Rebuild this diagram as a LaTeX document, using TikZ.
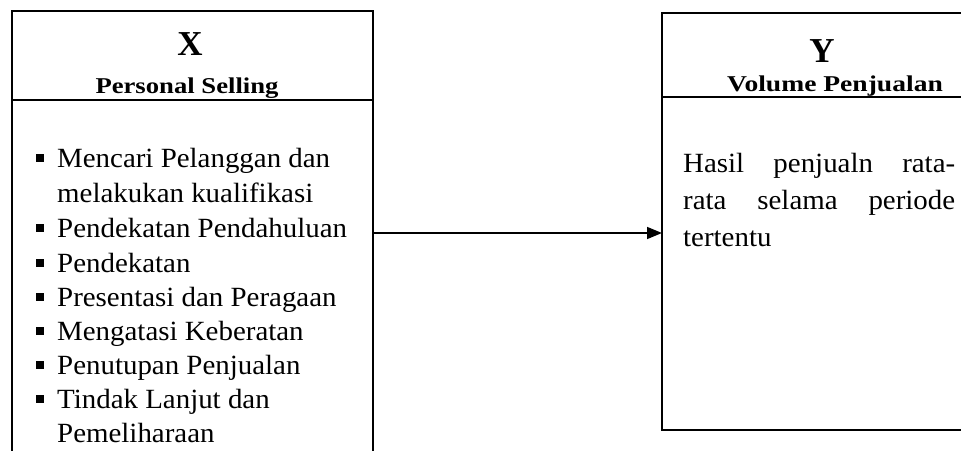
\documentclass[tikz,border=0pt]{standalone}
\usepackage{fontspec}
\setmainfont{Liberation Serif}
\newfontfamily\bodyf[FakeStretch=1.04]{Liberation Serif}
\newfontfamily\headf[FakeStretch=1.18]{Liberation Serif}
\newfontfamily\headg[FakeStretch=1.22]{Liberation Serif}
\usetikzlibrary{arrows.meta}
\tikzset{
  frame/.style={line width=1.6pt, black},
  bigletter/.style={font=\fontsize{35}{35}\selectfont\bfseries, anchor=base, inner sep=0pt},
  headtext/.style={font=\headf\fontsize{22.6}{22.6}\selectfont\bfseries, anchor=base, inner sep=0pt},
  headtextb/.style={font=\headg\fontsize{22.6}{22.6}\selectfont\bfseries, anchor=base, inner sep=0pt},
  item/.style={font=\bodyf\fontsize{27.8}{27.8}\selectfont, anchor=base west, inner sep=0pt},
  bulletsq/.style={fill=black, minimum size=7.5pt, inner sep=0pt, draw=none},
  link/.style={line width=1.6pt, -{Triangle[length=15pt,width=12pt]}}
}
\begin{document}
\begin{tikzpicture}[x=1pt,y=-1pt]
\useasboundingbox (0,0) rectangle (961,450);
\fill[white] (0,0) rectangle (961,450);
\begin{scope}
\clip (0,0) rectangle (961,450);
% left box
\draw[frame] (12,455) -- (12,11) -- (373,11) -- (373,455);
\draw[frame] (12,100) -- (373,100);
% right box
\draw[frame] (970,13) -- (662,13) -- (662,430) -- (970,430);
\draw[frame] (662,97) -- (970,97);
\end{scope}
% headers
\node[bigletter] (xl) at (190,55) {X};
\node[headtext] (xt) at (187,93) {Personal Selling};
\node[bigletter] (yl) at (822,62) {Y};
\node[headtextb] (yt) at (835,91.5) {Volume Penjualan};
% left list
\node[bulletsq] (b1) at (40,158) {};
\node[item] (t1) at (57,167) {Mencari Pelanggan dan};
\node[item] (t1b) at (57,202) {melakukan kualifikasi};
\node[bulletsq] (b2) at (40,228) {};
\node[item] (t2) at (57,237) {Pendekatan Pendahuluan};
\node[bulletsq] (b3) at (40,263) {};
\node[item] (t3) at (57,272) {Pendekatan};
\node[bulletsq] (b4) at (40,297) {};
\node[item] (t4) at (57,306) {Presentasi dan Peragaan};
\node[bulletsq] (b5) at (40,331) {};
\node[item] (t5) at (57,340) {Mengatasi Keberatan};
\node[bulletsq] (b6) at (40,365) {};
\node[item] (t6) at (57,374) {Penutupan Penjualan};
\node[bulletsq] (b7) at (40,399) {};
\node[item] (t7) at (57,408) {Tindak Lanjut dan};
\node[item] (t7b) at (57,442) {Pemeliharaan};
% right text
\node[item] (r1) at (683,172.5) {\makebox[272pt][s]{Hasil penjualn rata-}};
\node[item] (r2) at (683,209) {\makebox[272pt][s]{rata selama periode}};
\node[item] (r3) at (683,246.5) {tertentu};
% connector
\coordinate (xr) at (373,233);
\coordinate (yin) at (662,233);
\draw[link] (xr) -- (yin);
\end{tikzpicture}
\end{document}
